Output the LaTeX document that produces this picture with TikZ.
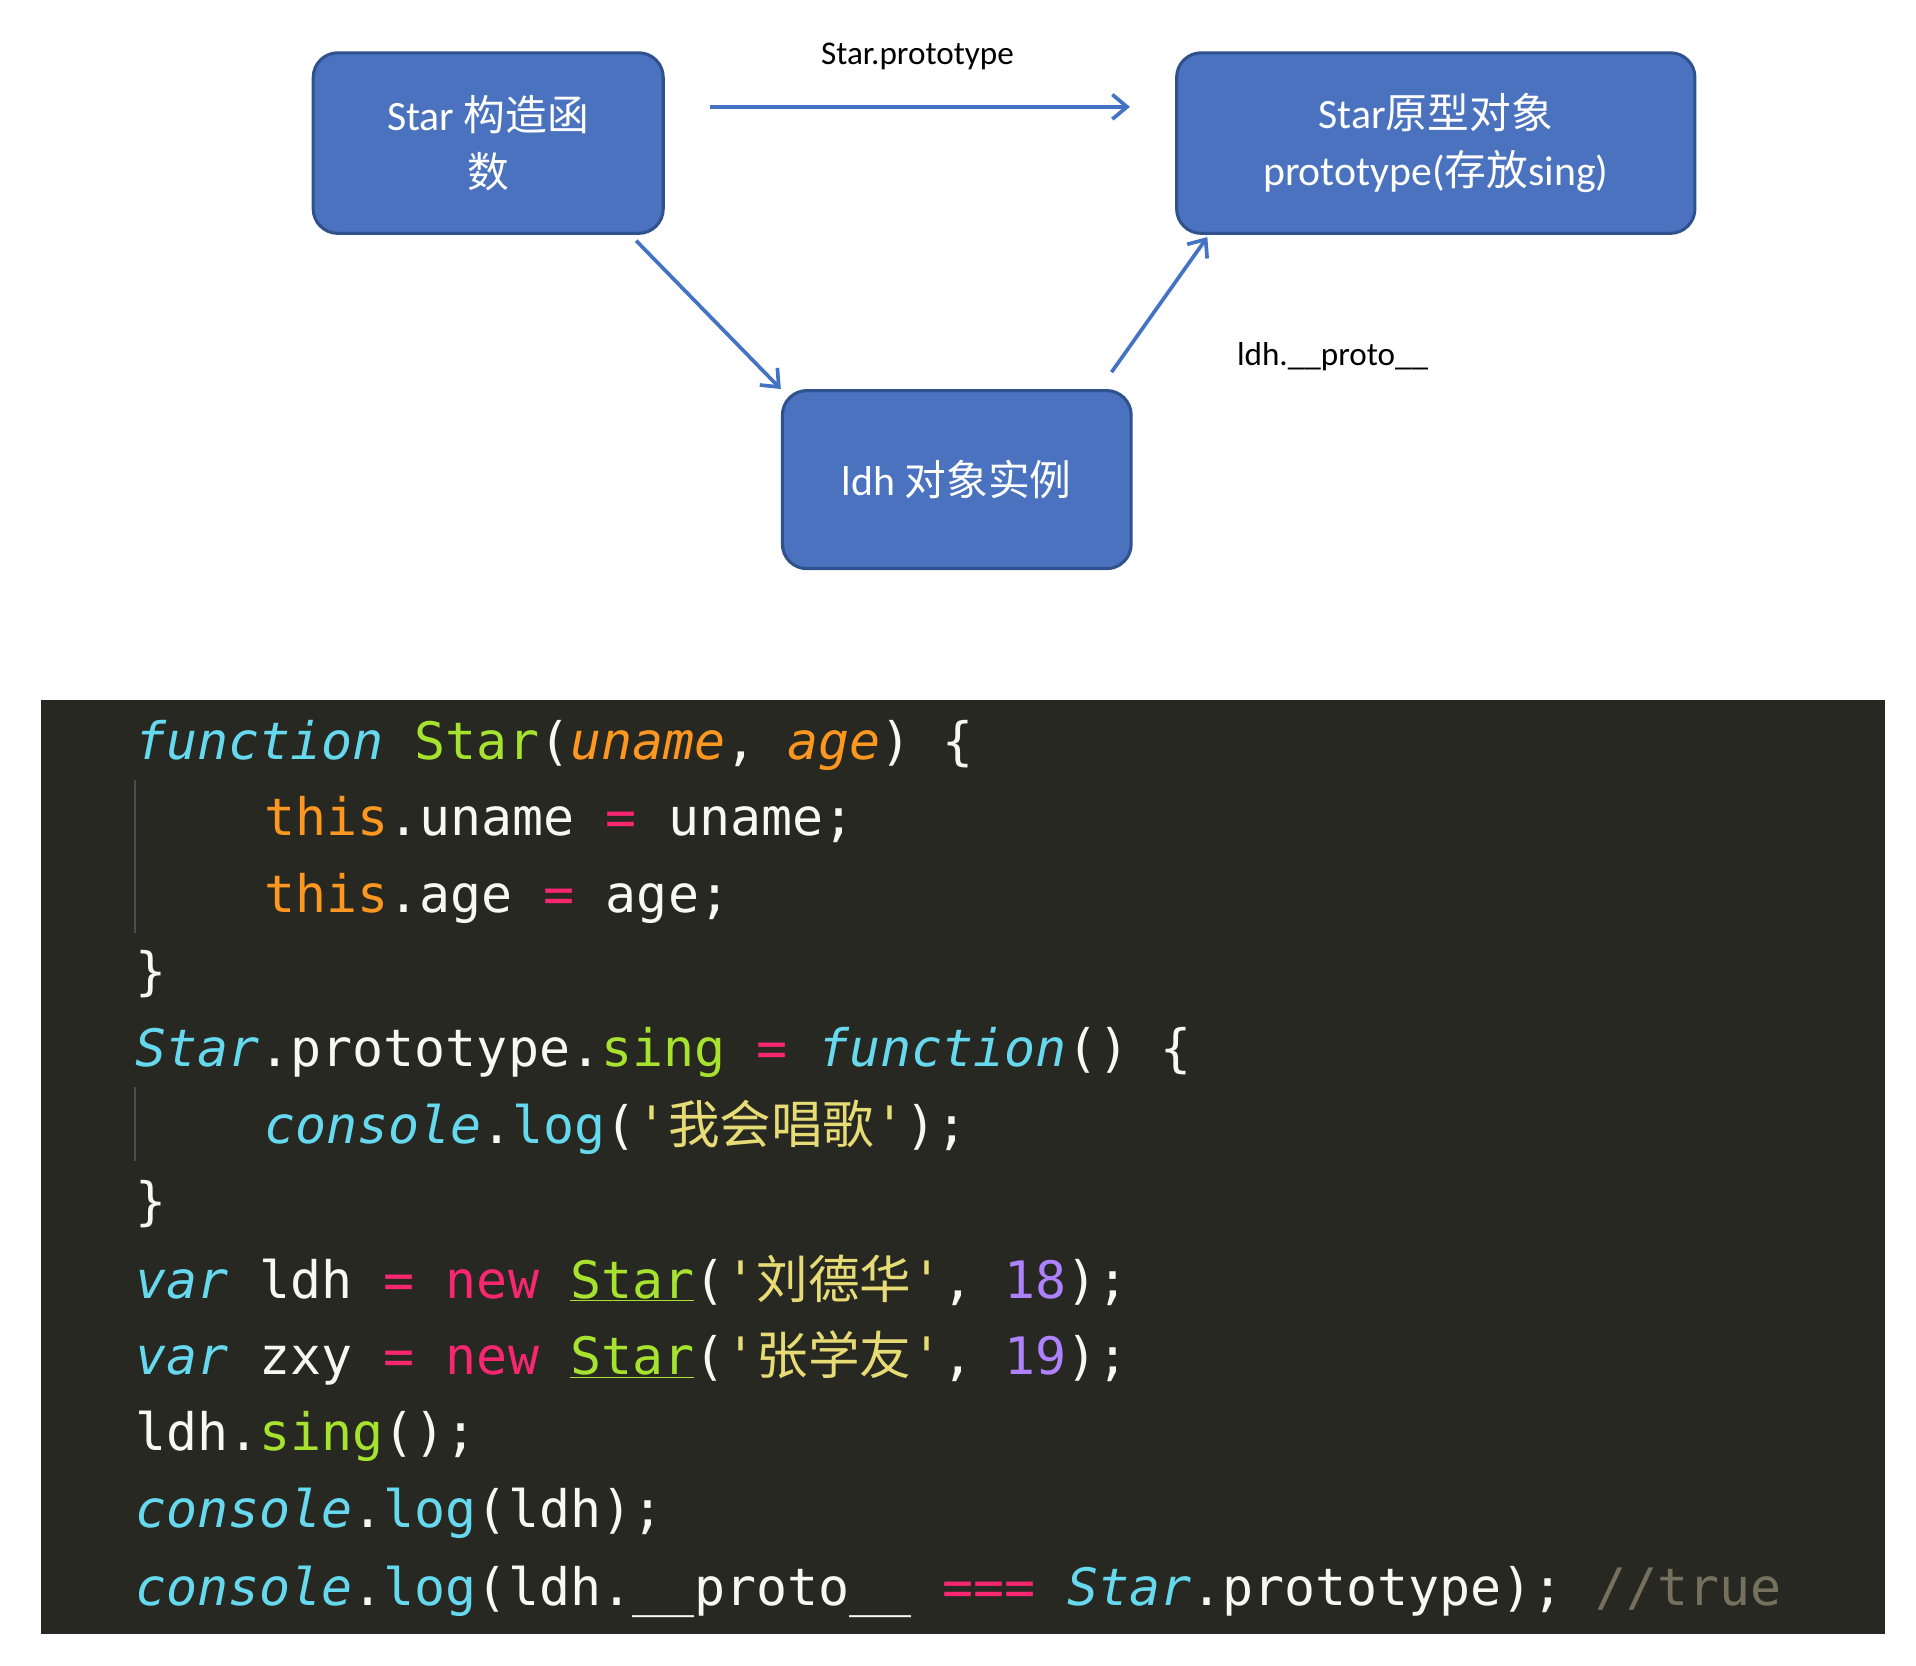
\documentclass[tikz,border=0pt]{standalone}
\usepackage{fontspec}
\setmainfont{Carlito}
\setmonofont{DejaVu Sans Mono}
\newfontfamily\cjk{Noto Sans CJK SC}
\definecolor{boxfill}{HTML}{4A72BE}
\definecolor{boxdraw}{HTML}{2F528F}
\definecolor{arr}{HTML}{4472C4}
\definecolor{bg}{HTML}{272822}
\definecolor{mkw}{HTML}{66D9EF}
\definecolor{mgr}{HTML}{A6E22E}
\definecolor{mor}{HTML}{FD971F}
\definecolor{mpk}{HTML}{F92672}
\definecolor{mye}{HTML}{E6DB74}
\definecolor{mpu}{HTML}{AE81FF}
\definecolor{mcm}{HTML}{75715E}
\definecolor{mwh}{HTML}{F8F8F2}
\newcommand\Kw[1]{\textcolor{mkw}{\itshape #1}}
\newcommand\Cy[1]{\textcolor{mkw}{#1}}
\newcommand\Gn[1]{\textcolor{mgr}{#1}}
\newcommand\Pa[1]{\textcolor{mor}{\itshape #1}}
\newcommand\Or[1]{\textcolor{mor}{#1}}
\newcommand\Pk[1]{\textcolor{mpk}{#1}}
\newcommand\Ye[1]{\textcolor{mye}{#1}}
\newcommand\Pu[1]{\textcolor{mpu}{#1}}
\newcommand\Cm[1]{\textcolor{mcm}{#1}}
\begin{document}
\begin{tikzpicture}[x=1pt,y=-1pt,
  blk/.style={draw=boxdraw,line width=2.5pt,fill=boxfill,rounded corners=20pt,text=white,align=center,font=\fontsize{34}{46}\selectfont},
  conn/.style={draw=arr,line width=3pt,-{Straight Barb[length=12pt,width=20pt]}},
  lbl/.style={font=\fontsize{27}{32}\selectfont,text=black},
  code/.style={anchor=base west,inner sep=0pt,text=mwh,font=\ttfamily\fontsize{42}{50}\selectfont}]
\useasboundingbox (0,0) rectangle (1560,1356);
\usetikzlibrary{arrows.meta}
% boxes
\node[blk,minimum width=285pt,minimum height=147pt] (ctor) at (397.5,116.5) {Star {\cjk 构造函}\\{\cjk 数}};
\node[blk,minimum width=422pt,minimum height=147pt] (proto) at (1169,116.5) {Star{\cjk 原型对象}\\prototype({\cjk 存放}sing)};
\node[blk,minimum width=284pt,minimum height=145pt] (inst) at (779,390.5) {ldh {\cjk 对象实例}};
\coordinate (a1s) at (578,87);
\coordinate (a1e) at (920,87);
\coordinate (a2s) at (518,196);
\coordinate (a3s) at (905,303);
\coordinate (a3e) at (983,193);
\draw[conn] (a1s) -- (a1e);
\draw[conn] (a2s) -- (inst.north west);
\draw[conn] (a3s) -- (a3e);
\node[lbl] (l1) at (747,46) {Star.prototype};
\node[lbl] (l2) at (1085,290) {ldh.\_\_proto\_\_};
% code panel
\fill[bg] (33,570) rectangle (1535,1330);
\draw[gray!60!black,line width=1.5pt] (110,635) -- (110,760);
\draw[gray!60!black,line width=1.5pt] (110,885) -- (110,945);
\node[code] (c1) at (110,618) {\Kw{function} \Gn{Star}(\Pa{uname}, \Pa{age}) \{};
\node[code] (c2) at (215,680) {\Or{this}.uname \Pk{=} uname;};
\node[code] (c3) at (215,743) {\Or{this}.age \Pk{=} age;};
\node[code] (c4) at (110,806) {\}};
\node[code] (c5) at (110,868) {\Kw{Star}.prototype.\Gn{sing} \Pk{=} \Kw{function}() \{};
\node[code] (c6) at (215,931) {\Kw{console}.\Cy{log}(\Ye{'{\cjk 我会唱歌}'});};
\node[code] (c7) at (110,993) {\}};
\node[code] (c8) at (110,1057) {\Kw{var} ldh \Pk{=} \Pk{new} \Gn{\underline{Star}}(\Ye{'{\cjk 刘德华}'}, \Pu{18});};
\node[code] (c9) at (110,1119) {\Kw{var} zxy \Pk{=} \Pk{new} \Gn{\underline{Star}}(\Ye{'{\cjk 张学友}'}, \Pu{19});};
\node[code] (c10) at (110,1181) {ldh.\Gn{sing}();};
\node[code] (c11) at (110,1244) {\Kw{console}.\Cy{log}(ldh);};
\node[code] (c12) at (110,1307) {\Kw{console}.\Cy{log}(ldh.\_\_proto\_\_ \Pk{===} \Kw{Star}.prototype); \Cm{//true}};
\end{tikzpicture}
\end{document}
